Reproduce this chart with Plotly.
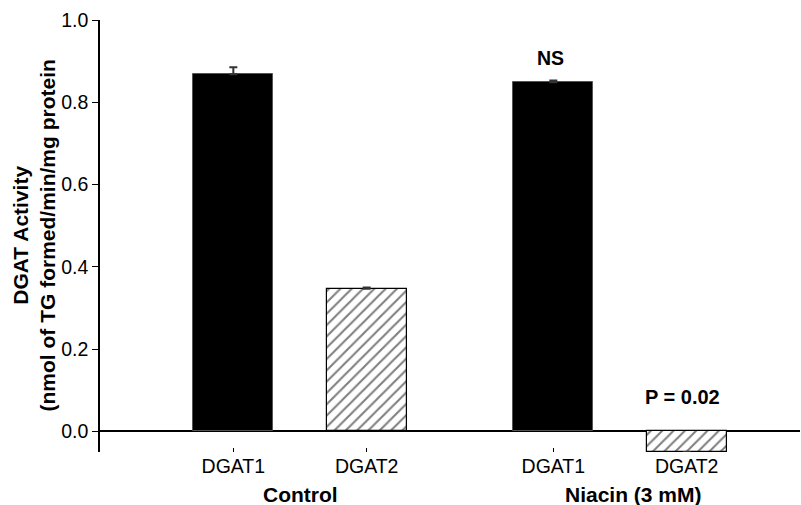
import plotly.graph_objects as go

# Data
groups = ["Control", "Control", "Niacin (3 mM)", "Niacin (3 mM)"]
tick_labels = ["DGAT1", "DGAT2", "DGAT1", "DGAT2"]
x_pos = [1.0, 2.0, 3.4, 4.4]
values = [0.868, 0.347, 0.849, -0.05]
errors = [0.017, 0.003, 0.004, 0.0]
is_dgat2 = [False, True, False, True]

FONT = "Liberation Sans, Arial, Helvetica, sans-serif"

fig = go.Figure()

# DGAT1 bars (solid black)
fig.add_trace(go.Bar(
    x=[x for x, d in zip(x_pos, is_dgat2) if not d],
    y=[v for v, d in zip(values, is_dgat2) if not d],
    width=0.6,
    marker=dict(color="black", line=dict(color="#555555", width=1)),
    error_y=dict(type="data", symmetric=False,
                 array=[e for e, d in zip(errors, is_dgat2) if not d],
                 arrayminus=[0, 0],
                 color="#333333", thickness=2, width=4),
    showlegend=False,
))

# DGAT2 bars (hatched)
fig.add_trace(go.Bar(
    x=[x for x, d in zip(x_pos, is_dgat2) if d],
    y=[v for v, d in zip(values, is_dgat2) if d],
    width=0.6,
    marker=dict(color="white", line=dict(color="black", width=1.2),
                pattern=dict(shape="/", size=8, solidity=0.26,
                             fgcolor="black", bgcolor="white")),
    error_y=dict(type="data", symmetric=False,
                 array=[e for e, d in zip(errors, is_dgat2) if d],
                 arrayminus=[0, 0],
                 color="#333333", thickness=2, width=4),
    showlegend=False,
))

def ypaper(v):
    return (v + 0.05) / 1.05

annotations = [
    dict(x=3.38, y=0.908, xref="x", yref="y", text="<b>NS</b>", showarrow=False,
         font=dict(size=19.5, color="black", family=FONT)),
    dict(x=4.37, y=0.083, xref="x", yref="y", text="<b>P = 0.02</b>", showarrow=False,
         font=dict(size=20, color="black", family=FONT)),
    dict(x=(x_pos[0] + x_pos[1]) / 2, y=ypaper(-0.153), xref="x", yref="paper",
         text="<b>Control</b>", xanchor="center", yanchor="middle",
         showarrow=False, font=dict(size=21, color="black", family=FONT)),
    dict(x=(x_pos[2] + x_pos[3]) / 2 + 0.1, y=ypaper(-0.153), xref="x", yref="paper",
         text="<b>Niacin (3 mM)</b>", xanchor="center", yanchor="middle",
         showarrow=False, font=dict(size=21, color="black", family=FONT)),
    dict(x=-0.095, y=0.5, xref="paper", yref="paper",
         xanchor="center", yanchor="middle",
         text="<b>DGAT Activity<br>(nmol of TG formed/min/mg protein</b>",
         textangle=-90, showarrow=False, align="center",
         font=dict(size=21, color="black", family=FONT)),
]

fig.update_layout(
    width=801, height=505,
    margin=dict(l=100, r=1, t=20, b=53),
    paper_bgcolor="white", plot_bgcolor="white",
    font=dict(family=FONT, size=19, color="black"),
    bargap=0,
    annotations=annotations,
    xaxis=dict(
        range=[0, 5.25],
        tickmode="array", tickvals=x_pos, ticktext=tick_labels,
        ticks="inside", ticklen=4, tickcolor="black", tickwidth=1,
        showline=False, showgrid=False, zeroline=False,
        tickfont=dict(size=19.5, family=FONT, color="black"),
        layer="below traces",
    ),
    yaxis=dict(
        range=[-0.05, 1.0],
        tickmode="array", tickvals=[0, 0.2, 0.4, 0.6, 0.8, 1.0],
        ticktext=["0.0", "0.2", "0.4", "0.6", "0.8", "1.0"],
        ticks="outside", ticklen=6, tickcolor="black", tickwidth=1,
        showline=True, linecolor="black", linewidth=1.5,
        showgrid=False,
        zeroline=True, zerolinecolor="black", zerolinewidth=1.5,
        tickfont=dict(size=19.5, family=FONT, color="black"),
    ),
)

fig.write_html("out.html")
